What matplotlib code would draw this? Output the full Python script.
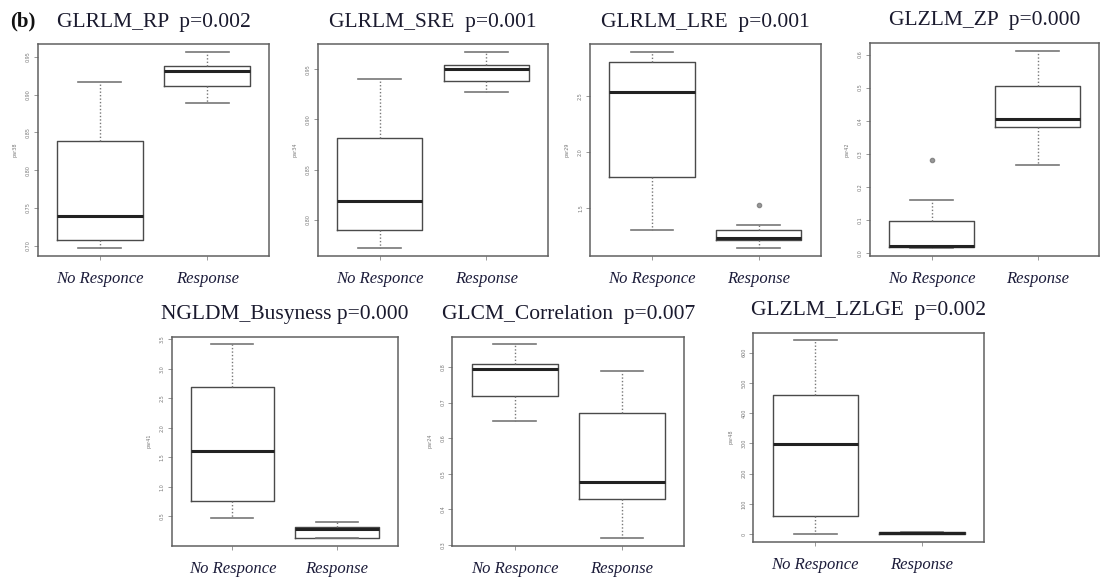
import matplotlib
matplotlib.use("Agg")
import matplotlib.pyplot as plt

W, H = 1105, 577

groups = ["No Responce", "Response"]

titles = [
    "GLRLM_RP  p=0.002",
    "GLRLM_SRE  p=0.001",
    "GLRLM_LRE  p=0.001",
    "GLZLM_ZP  p=0.000",
    "NGLDM_Busyness p=0.000",
    "GLCM_Correlation  p=0.007",
    "GLZLM_LZLGE  p=0.002",
]
ylabels = ["par38", "par34", "par29", "par42", "par41", "par24", "par48"]

# five-number summaries per group: (whisker low, Q1, median, Q3, whisker high)
rp_stats = [(0.697, 0.708, 0.739, 0.838, 0.917), (0.889, 0.911, 0.931, 0.938, 0.956)]
sre_stats = [(0.772, 0.790, 0.819, 0.882, 0.940), (0.927, 0.938, 0.950, 0.954, 0.967)]
lre_stats = [(1.308, 1.780, 2.533, 2.800, 2.889), (1.142, 1.216, 1.231, 1.300, 1.348)]
zp_stats = [(0.015, 0.017, 0.020, 0.098, 0.159), (0.267, 0.382, 0.404, 0.506, 0.611)]
busy_stats = [(0.471, 0.766, 1.608, 2.692, 3.415), (0.135, 0.135, 0.283, 0.318, 0.403)]
corr_stats = [(0.649, 0.717, 0.795, 0.809, 0.863), (0.320, 0.428, 0.477, 0.671, 0.789)]
lzlge_stats = [(1.0, 60.0, 297.6, 459.0, 640.6), (0.3, 0.8, 2.5, 5.5, 7.0)]

# outlying points per group
lre_fliers = [[], [1.527]]
zp_fliers = [[0.282], []]

yticks = [
    [0.70, 0.75, 0.80, 0.85, 0.90, 0.95],
    [0.80, 0.85, 0.90, 0.95],
    [1.5, 2.0, 2.5],
    [0.0, 0.1, 0.2, 0.3, 0.4, 0.5, 0.6],
    [0.5, 1.0, 1.5, 2.0, 2.5, 3.0, 3.5],
    [0.3, 0.4, 0.5, 0.6, 0.7, 0.8],
    [0, 100, 200, 300, 400, 500, 600],
]
ytick_fmt = ["%.2f", "%.2f", "%.1f", "%.1f", "%.1f", "%.1f", "%d"]

all_stats = [rp_stats, sre_stats, lre_stats, zp_stats, busy_stats, corr_stats, lzlge_stats]
all_fliers = [[[], []], [[], []], lre_fliers, zp_fliers, [[], []], [[], []], [[], []]]

# panel frames in pixels (left, top, right, bottom)
frames = [
    (37.7, 44.3, 269.3, 256.0),
    (317.7, 44.3, 548.3, 256.0),
    (590.0, 44.3, 820.7, 256.0),
    (870.0, 43.0, 1099.3, 256.0),
    (171.7, 336.7, 397.7, 545.7),
    (452.3, 336.7, 684.3, 545.7),
    (753.3, 332.7, 984.0, 541.7),
]

fig = plt.figure(figsize=(W / 100, H / 100), dpi=100)
fig.patch.set_facecolor("white")

serif = ["Liberation Serif", "DejaVu Serif"]
frame_col = "#606060"
box_col = "#4a4a4a"

for i in range(7):
    l, t, r, b = frames[i]
    ax = fig.add_axes([l / W, 1 - b / H, (r - l) / W, (b - t) / H])
    stats = []
    for k, (lo, q1, med, q3, hi) in enumerate(all_stats[i]):
        stats.append(dict(whislo=lo, q1=q1, med=med, q3=q3, whishi=hi,
                          fliers=all_fliers[i][k]))
    ax.bxp(stats, positions=[1, 2], widths=0.8, capwidths=0.4,
           boxprops=dict(color=box_col, linewidth=1.0),
           medianprops=dict(color="#222222", linewidth=2.2),
           whiskerprops=dict(color="#777777", linewidth=1.0, linestyle=(0, (1, 1.5))),
           capprops=dict(color="#777777", linewidth=1.2),
           flierprops=dict(marker="o", markersize=3, markerfacecolor="#999999",
                           markeredgecolor="#888888"))
    lows = [s[0] for s in all_stats[i]] + [f for fl in all_fliers[i] for f in fl]
    highs = [s[4] for s in all_stats[i]] + [f for fl in all_fliers[i] for f in fl]
    ymin, ymax = min(lows), max(highs)
    pad = 0.04 * (ymax - ymin)
    ax.set_ylim(ymin - pad, ymax + pad)
    ax.set_xlim(0.42, 2.58)

    ax.set_yticks(yticks[i])
    ax.set_yticklabels([ytick_fmt[i] % v for v in yticks[i]], rotation=90,
                       va="center", fontsize=3.5, color="#777777")
    ax.tick_params(axis="y", length=3, width=0.6, color="#888888", pad=2)
    ax.set_xticks([1, 2])
    ax.set_xticklabels(groups, fontsize=12, fontstyle="italic", family=serif,
                       color="#1c1c3a")
    ax.tick_params(axis="x", length=3, width=0.6, color="#888888", pad=8)
    ax.set_ylabel(ylabels[i], fontsize=3.5, color="#777777", labelpad=6)
    for sp in ax.spines.values():
        sp.set_color(frame_col)
        sp.set_linewidth(1.1)

    cx = (l + r) / 2
    fig.text(cx / W, 1 - (t - 22) / H, titles[i], ha="center", va="center",
             fontsize=15.5, family=serif, color="#1a1a2e")

fig.text(10 / W, 1 - 21 / H, "(b)", ha="left", va="center", fontsize=15,
         fontweight="bold", family=serif, color="#111111")

fig.savefig("out.png", dpi=100)
